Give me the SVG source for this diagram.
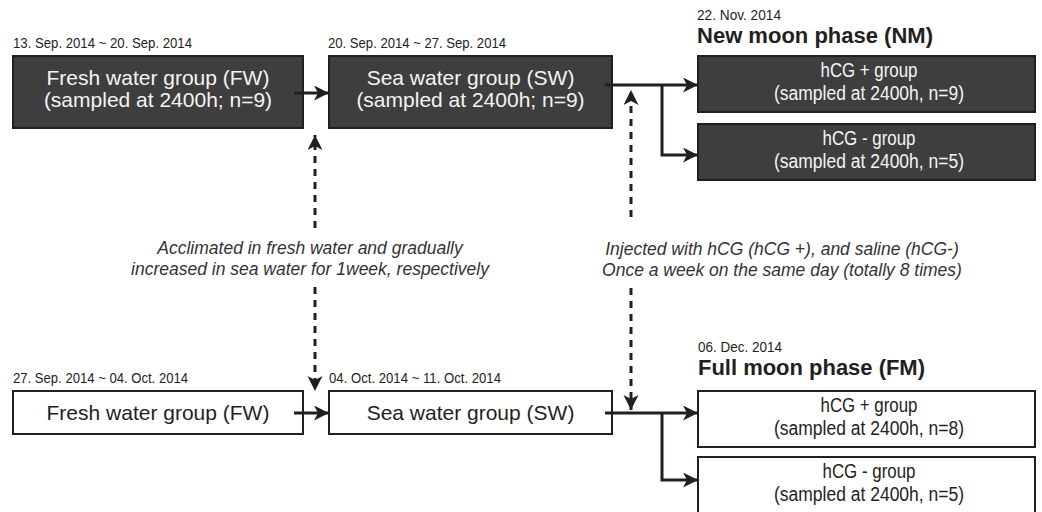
<svg xmlns="http://www.w3.org/2000/svg" width="1042" height="512" viewBox="0 0 1042 512">
<style>
text{font-family:"Liberation Sans",Arial,Helvetica,sans-serif}
.dark rect{fill:#3e3e3e;stroke:#231f20;stroke-width:2}
.light rect{fill:#ffffff;stroke:#231f20;stroke-width:2}
.dark text.in{fill:#f4f4f4}
.light text.in{fill:#231f20}
.big{font-size:21px;text-anchor:middle}
.sm{font-size:19.5px;text-anchor:middle}
.date{font-size:14px;fill:#231f20}
.title{font-size:22px;font-weight:bold;fill:#231f20}
.note{font-size:17.5px;font-style:italic;fill:#333333;text-anchor:middle}
.conn line,.conn path{stroke:#231f20;stroke-width:3;fill:none}
.conn .dash{stroke-dasharray:7 6}
</style>
<defs>
<marker id="ah" markerUnits="userSpaceOnUse" markerWidth="16" markerHeight="16" refX="15" refY="7.5" orient="auto">
<path d="M0,0 L15,7.5 L0,15 L4,7.5 Z" fill="#231f20"/>
</marker>
</defs>

<g id="fw_top" class="dark">
<text class="date" x="13" y="48" textLength="179" lengthAdjust="spacingAndGlyphs">13. Sep. 2014 ~ 20. Sep. 2014</text>
<rect x="13" y="56" width="290" height="72"/>
<text class="in big" x="158" y="85">Fresh water group (FW)</text>
<text class="in big" x="158" y="107">(sampled at 2400h; n=9)</text>
</g>

<g id="sw_top" class="dark">
<text class="date" x="328" y="48" textLength="178" lengthAdjust="spacingAndGlyphs">20. Sep. 2014 ~ 27. Sep. 2014</text>
<rect x="329" y="56" width="283" height="72"/>
<text class="in big" x="470.5" y="85">Sea water group (SW)</text>
<text class="in big" x="470.5" y="107">(sampled at 2400h; n=9)</text>
</g>

<g id="nm_label">
<text class="date" x="697" y="20" textLength="84" lengthAdjust="spacingAndGlyphs">22. Nov. 2014</text>
<text class="title" x="697" y="43" textLength="236" lengthAdjust="spacingAndGlyphs">New moon phase (NM)</text>
</g>

<g id="nm_hcg_plus" class="dark">
<rect x="698" y="56" width="337" height="56"/>
<text class="in sm" x="869" y="77" textLength="97" lengthAdjust="spacingAndGlyphs">hCG + group</text>
<text class="in sm" x="869" y="100" textLength="190" lengthAdjust="spacingAndGlyphs">(sampled at 2400h, n=9)</text>
</g>

<g id="nm_hcg_minus" class="dark">
<rect x="698" y="124" width="337" height="56"/>
<text class="in sm" x="869" y="145" textLength="93" lengthAdjust="spacingAndGlyphs">hCG - group</text>
<text class="in sm" x="869" y="168" textLength="190" lengthAdjust="spacingAndGlyphs">(sampled at 2400h, n=5)</text>
</g>

<g id="note_left">
<text class="note" x="310" y="254">Acclimated in fresh water and gradually</text>
<text class="note" x="310" y="275">increased in sea water for 1week, respectively</text>
</g>

<g id="note_right">
<text class="note" x="782" y="255">Injected with hCG (hCG +), and saline (hCG-)</text>
<text class="note" x="782" y="276">Once a week on the same day (totally 8 times)</text>
</g>

<g id="fw_bottom" class="light">
<text class="date" x="13" y="383" textLength="175" lengthAdjust="spacingAndGlyphs">27. Sep. 2014 ~ 04. Oct. 2014</text>
<rect x="13" y="391" width="290" height="43"/>
<text class="in big" x="158" y="420">Fresh water group (FW)</text>
</g>

<g id="sw_bottom" class="light">
<text class="date" x="329" y="383" textLength="172" lengthAdjust="spacingAndGlyphs">04. Oct. 2014 ~ 11. Oct. 2014</text>
<rect x="329" y="391" width="283" height="43"/>
<text class="in big" x="470.5" y="420">Sea water group (SW)</text>
</g>

<g id="fm_label">
<text class="date" x="698" y="352" textLength="84" lengthAdjust="spacingAndGlyphs">06. Dec. 2014</text>
<text class="title" x="698" y="375" textLength="227" lengthAdjust="spacingAndGlyphs">Full moon phase (FM)</text>
</g>

<g id="fm_hcg_plus" class="light">
<rect x="698" y="391" width="337" height="56"/>
<text class="in sm" x="869" y="412" textLength="97" lengthAdjust="spacingAndGlyphs">hCG + group</text>
<text class="in sm" x="869" y="435" textLength="190" lengthAdjust="spacingAndGlyphs">(sampled at 2400h, n=8)</text>
</g>

<g id="fm_hcg_minus" class="light">
<rect x="698" y="457" width="337" height="57"/>
<text class="in sm" x="869" y="478" textLength="93" lengthAdjust="spacingAndGlyphs">hCG - group</text>
<text class="in sm" x="869" y="501" textLength="190" lengthAdjust="spacingAndGlyphs">(sampled at 2400h, n=5)</text>
</g>

<g id="connectors" class="conn">
<line x1="294" y1="93" x2="329" y2="93" marker-end="url(#ah)"/>
<line x1="605" y1="85" x2="698" y2="85" marker-end="url(#ah)"/>
<path d="M662,85 V155 H698" marker-end="url(#ah)"/>
<line x1="294" y1="413" x2="329" y2="413" marker-end="url(#ah)"/>
<line x1="605" y1="413" x2="698" y2="413" marker-end="url(#ah)"/>
<path d="M662,413 V480 H698" marker-end="url(#ah)"/>
<line class="dash" x1="315" y1="228" x2="315" y2="135" marker-end="url(#ah)"/>
<line class="dash" x1="315" y1="287" x2="315" y2="391" marker-end="url(#ah)"/>
<line class="dash" x1="631" y1="217" x2="631" y2="90" marker-end="url(#ah)"/>
<line class="dash" x1="631" y1="288" x2="631" y2="410" marker-end="url(#ah)"/>
</g>
</svg>
